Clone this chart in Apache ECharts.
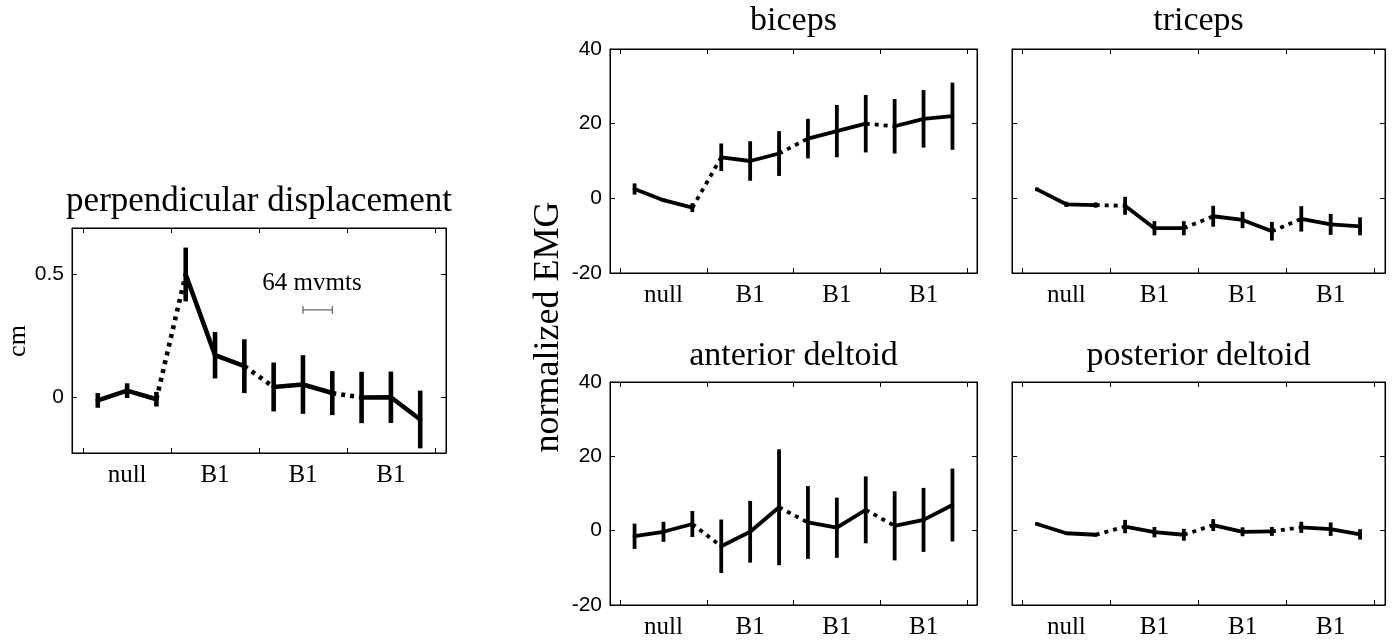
<!DOCTYPE html>
<html>
<head>
<meta charset="utf-8">
<script src="https://cdn.jsdelivr.net/npm/echarts@6/dist/echarts.min.js"></script>
<style>
html,body{margin:0;padding:0;background:#fff;}
#chart{width:1393px;height:640px;}
</style>
</head>
<body>
<div id="chart"></div>
<script>
// trial blocks: 3 points per block, solid inside a block, dotted between blocks
const trials = [1, 2, 3, 4, 5, 6, 7, 8, 9, 10, 11, 12];
const blockTicks = [0.5, 3.5, 6.5, 9.5, 12.5];
const blockCenters = [2, 5, 8, 11];
const blockLabels = ['null', 'B1', 'B1', 'B1'];

const dispMean = [-0.015, 0.025, -0.01, 0.5, 0.17, 0.125, 0.04, 0.05, 0.015, -0.003, -0.002, -0.093];
const dispErr = [0.03, 0.03, 0.03, 0.11, 0.095, 0.11, 0.1, 0.12, 0.09, 0.105, 0.105, 0.118];
const dispTicks = [0, 0.5];
const scaleBar = [8, 9, 0.355]; // from, to, level  (64 mvmts)

const bicepsMean = [2.5, -0.5, -2.5, 11, 10, 12, 16, 18, 20, 19.3, 21.3, 22];
const bicepsErr = [1.5, 0.5, 1.2, 3.7, 5.3, 6, 5.3, 7, 7.7, 7.3, 7.7, 9];
const tricepsMean = [2.4, -1.6, -1.8, -2, -8, -8, -4.8, -5.8, -8.8, -5.5, -7, -7.5];
const tricepsErr = [0.5, 0.7, 0.7, 2.4, 1.9, 1.9, 2.8, 2.2, 2.5, 3.4, 2.8, 2.4];
const antDeltMean = [-1.5, -0.3, 1.8, -4.2, -0.3, 6.3, 2.2, 0.8, 5.6, 1.3, 2.9, 6.9];
const antDeltErr = [3.4, 2.7, 3.5, 7.2, 8.3, 15.6, 9.8, 8.1, 9, 9.3, 8.6, 9.8];
const postDeltMean = [1.8, -0.7, -1.1, 1.1, -0.4, -1.1, 1.5, -0.3, -0.2, 0.9, 0.4, -1];
const postDeltErr = [0.4, 0.3, 0.5, 1.8, 1.4, 1.6, 1.6, 1.2, 1.2, 1.5, 1.8, 1.4];
const emgTicks = [-20, 0, 20, 40];

const SERIF = 'Liberation Serif';
const SANS = 'Liberation Sans';

const panels = [
  {title: 'perpendicular displacement', mean: dispMean, err: dispErr, yMin: -0.23, yMax: 0.69, yTicks: dispTicks,
   yLabels: true, xMin: 0.12, xMax: 12.88, lw: 4.6, grid: {left: 72, top: 228, width: 374, height: 225}, titleY: 202, titleSize: 35},
  {title: 'biceps', mean: bicepsMean, err: bicepsErr, yMin: -20, yMax: 40, yTicks: emgTicks,
   yLabels: true, xMin: 0.15, xMax: 12.85, lw: 3.8, grid: {left: 610, top: 49, width: 367, height: 224}, titleY: 21, titleSize: 34},
  {title: 'triceps', mean: tricepsMean, err: tricepsErr, yMin: -20, yMax: 40, yTicks: emgTicks,
   yLabels: false, xMin: 0.15, xMax: 12.85, lw: 3.8, grid: {left: 1012, top: 49, width: 373, height: 224}, titleY: 21, titleSize: 34},
  {title: 'anterior deltoid', mean: antDeltMean, err: antDeltErr, yMin: -20, yMax: 40, yTicks: emgTicks,
   yLabels: true, xMin: 0.15, xMax: 12.85, lw: 3.8, grid: {left: 610, top: 382, width: 367, height: 224}, titleY: 356, titleSize: 34},
  {title: 'posterior deltoid', mean: postDeltMean, err: postDeltErr, yMin: -20, yMax: 40, yTicks: emgTicks,
   yLabels: false, xMin: 0.15, xMax: 12.85, lw: 3.8, grid: {left: 1012, top: 382, width: 373, height: 224}, titleY: 356, titleSize: 34}
];

let grids = [], xAxes = [], yAxes = [], series = [], graphics = [];

panels.forEach((p, i) => {
  grids.push(Object.assign({show: true, borderColor: '#000', borderWidth: 1}, p.grid));

  // bottom + top x axes (ticks mirrored inside like matlab)
  ['bottom', 'top'].forEach(pos => {
    xAxes.push({
      type: 'value', gridIndex: i, position: pos, min: p.xMin, max: p.xMax,
      axisLine: {show: true, onZero: false, lineStyle: {color: '#000', width: 1}},
      axisTick: {show: true, inside: true, length: 5, customValues: blockTicks, lineStyle: {color: '#000'}},
      axisLabel: {show: pos === 'bottom', customValues: blockCenters, margin: 10,
        formatter: v => blockLabels[blockCenters.indexOf(v)],
        fontFamily: SERIF, fontSize: 25, color: '#000'},
      splitLine: {show: false}
    });
  });
  ['left', 'right'].forEach(pos => {
    yAxes.push({
      type: 'value', gridIndex: i, position: pos, min: p.yMin, max: p.yMax,
      axisLine: {show: true, onZero: false, lineStyle: {color: '#000', width: 1}},
      axisTick: {show: true, inside: true, length: 5, customValues: p.yTicks, lineStyle: {color: '#000'}},
      axisLabel: {show: pos === 'left' && p.yLabels, customValues: p.yTicks, margin: 8,
        fontFamily: SANS, fontSize: 21, color: '#000'},
      splitLine: {show: false}
    });
  });

  let solid = [], dotted = [];
  trials.forEach((t, k) => {
    solid.push([t, p.mean[k]]);
    if (k % 3 === 2 && k < trials.length - 1) {
      solid.push([t + 0.5, '-']);
      dotted.push([t, p.mean[k]], [trials[k + 1], p.mean[k + 1]], [t + 0.75, '-']);
    }
  });

  const axisIdx = {xAxisIndex: i * 2, yAxisIndex: i * 2};
  series.push(Object.assign({
    type: 'line', data: solid, showSymbol: false, connectNulls: false, silent: true,
    lineStyle: {color: '#000', width: p.lw, cap: 'round', join: 'round'}
  }, axisIdx));
  series.push(Object.assign({
    type: 'line', data: dotted, showSymbol: false, connectNulls: false, silent: true,
    lineStyle: {color: '#000', width: p.lw, type: [4, 5]}
  }, axisIdx));
  series.push(Object.assign({
    type: 'custom', silent: true,
    data: trials.map((t, k) => [t, p.mean[k] - p.err[k], p.mean[k] + p.err[k]]),
    encode: {x: 0, y: [1, 2]},
    renderItem: (params, api) => {
      const a = api.coord([api.value(0), api.value(1)]);
      const b = api.coord([api.value(0), api.value(2)]);
      return {type: 'line', shape: {x1: a[0], y1: a[1], x2: b[0], y2: b[1]},
        style: {stroke: '#000', lineWidth: p.lw}};
    }
  }, axisIdx));

  graphics.push({type: 'text', x: p.grid.left + p.grid.width / 2, y: p.titleY,
    style: {text: p.title, fontFamily: SERIF, fontSize: p.titleSize, fill: '#000', align: 'center', verticalAlign: 'middle'}});
});

// 64 movements scale bar on the displacement panel
series.push({
  type: 'custom', xAxisIndex: 0, yAxisIndex: 0, silent: true,
  data: [scaleBar], encode: {x: [0, 1], y: 2},
  renderItem: (params, api) => {
    const a = api.coord([api.value(0), api.value(2)]);
    const b = api.coord([api.value(1), api.value(2)]);
    const st = {stroke: '#444', lineWidth: 1};
    return {type: 'group', children: [
      {type: 'line', shape: {x1: a[0], y1: a[1], x2: b[0], y2: b[1]}, style: st},
      {type: 'line', shape: {x1: a[0], y1: a[1] - 4, x2: a[0], y2: a[1] + 4}, style: st},
      {type: 'line', shape: {x1: b[0], y1: b[1] - 4, x2: b[0], y2: b[1] + 4}, style: st}
    ]};
  }
});

graphics.push({type: 'text', x: 312, y: 283,
  style: {text: '64 mvmts', fontFamily: SERIF, fontSize: 25, fill: '#000', align: 'center', verticalAlign: 'middle'}});
graphics.push({type: 'text', x: 18, y: 341, rotation: Math.PI / 2,
  style: {text: 'cm', fontFamily: SERIF, fontSize: 26, fill: '#000', align: 'center', verticalAlign: 'middle'}});
graphics.push({type: 'text', x: 549, y: 327, rotation: Math.PI / 2,
  style: {text: 'normalized EMG', fontFamily: SERIF, fontSize: 36, fill: '#000', align: 'center', verticalAlign: 'middle'}});

const chart = echarts.init(document.getElementById('chart'));
chart.setOption({
  animation: false,
  backgroundColor: '#fff',
  grid: grids,
  xAxis: xAxes,
  yAxis: yAxes,
  series: series,
  graphic: graphics
});
</script>
</body>
</html>
